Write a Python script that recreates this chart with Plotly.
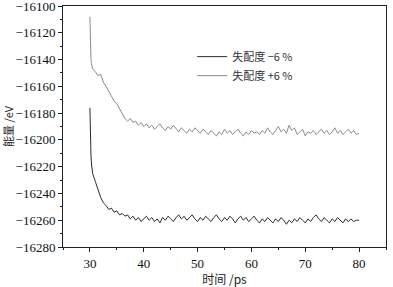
import plotly.graph_objects as go

time_ps = [30.0, 30.05, 30.1, 30.2, 30.3, 30.4] + [30.5 + 0.5 * i for i in range(100)]

energy_minus6 = [
    -16176, -16192, -16203, -16212, -16218, -16222,
    -16225, -16231, -16237, -16243, -16247, -16249, -16252, -16251, -16254, -16253,
    -16256, -16255, -16257, -16256, -16259, -16257, -16260, -16258, -16261, -16259,
    -16257, -16260, -16258, -16261, -16259, -16262, -16258, -16260, -16257, -16259,
    -16261, -16258, -16256, -16259, -16257, -16260, -16258, -16256, -16259, -16261,
    -16258, -16260, -16257, -16259, -16261, -16258, -16256, -16259, -16261, -16258,
    -16260, -16257, -16259, -16262, -16259, -16257, -16260, -16258, -16261, -16259,
    -16257, -16260, -16262, -16259, -16261, -16258, -16260, -16262, -16259, -16261,
    -16258, -16260, -16263, -16260, -16262, -16259, -16261, -16258, -16260, -16262,
    -16259, -16261, -16258, -16256, -16259, -16261, -16258, -16260, -16262, -16259,
    -16261, -16258, -16260, -16262, -16259, -16261, -16259, -16261, -16260, -16260,
]

energy_plus6 = [
    -16108, -16124, -16134, -16140, -16143, -16145,
    -16147, -16149, -16152, -16151, -16157, -16160, -16164, -16167, -16171, -16173,
    -16177, -16180, -16184, -16186, -16184, -16187, -16186, -16189, -16187, -16190,
    -16188, -16191, -16189, -16192, -16190, -16188, -16191, -16193, -16190, -16192,
    -16189, -16192, -16194, -16191, -16193, -16195, -16192, -16194, -16191, -16193,
    -16195, -16192, -16194, -16196, -16193, -16195, -16197, -16194, -16196, -16192,
    -16195, -16193, -16196, -16194, -16192, -16195, -16197, -16194, -16196, -16193,
    -16195, -16194, -16196, -16193, -16195, -16191, -16194, -16196, -16193, -16190,
    -16194, -16192, -16195, -16189, -16193, -16191, -16196, -16194, -16192, -16197,
    -16194, -16195, -16193, -16196, -16194, -16192, -16195, -16193, -16196, -16194,
    -16191, -16195, -16193, -16196, -16194, -16192, -16195, -16193, -16196, -16195,
]

series_names = ["失配度 −6 %", "失配度 +6 %"]
y_ticks = [-16100, -16120, -16140, -16160, -16180, -16200, -16220, -16240, -16260, -16280]
x_ticks = [30, 40, 50, 60, 70, 80]

serif = "Liberation Serif"
cjk = "Noto Sans CJK SC"

fig = go.Figure()
fig.add_trace(go.Scatter(x=time_ps, y=energy_minus6, mode="lines", name=series_names[0],
                         line=dict(color="#2a2a2a", width=1.0)))
fig.add_trace(go.Scatter(x=time_ps, y=energy_plus6, mode="lines", name=series_names[1],
                         line=dict(color="#8a8a8a", width=1.0)))

axis_common = dict(showline=True, linecolor="#222", linewidth=1, mirror=True,
                   ticks="outside", ticklen=4, tickcolor="#222", showgrid=False, zeroline=False,
                   ticklabeloverflow="allow", automargin=False,
                   tickfont=dict(family=serif, size=13, color="#111"))

fig.update_layout(
    width=393, height=287,
    margin=dict(l=63, r=7, t=6, b=40),
    paper_bgcolor="white", plot_bgcolor="white",
    showlegend=True,
    legend=dict(x=0.40, y=0.85, xanchor="left", yanchor="top", bgcolor="rgba(0,0,0,0)",
                font=dict(family=cjk, size=11, color="#333"),
                itemwidth=30, tracegroupgap=0),
    xaxis=dict(range=[25, 85], tickvals=x_ticks, ticktext=[str(v) for v in x_ticks],
               minor=dict(ticks="outside", ticklen=2, dtick=5, tick0=25, tickcolor="#222"),
               title=dict(text="时间 /ps", font=dict(family=cjk, size=12, color="#222"), standoff=3),
               **axis_common),
    yaxis=dict(range=[-16280, -16100], tickvals=y_ticks, ticktext=["−" + str(-v) for v in y_ticks],
               minor=dict(ticks="outside", ticklen=2, dtick=10, tick0=-16280, tickcolor="#222"),
               title=dict(text="能量 /eV", font=dict(family=cjk, size=11, color="#222"), standoff=3),
               **axis_common),
)

fig.write_html("out.html", config={"displayModeBar": False},
               post_script="document.body.style.margin='0';document.body.style.overflow='hidden';")
